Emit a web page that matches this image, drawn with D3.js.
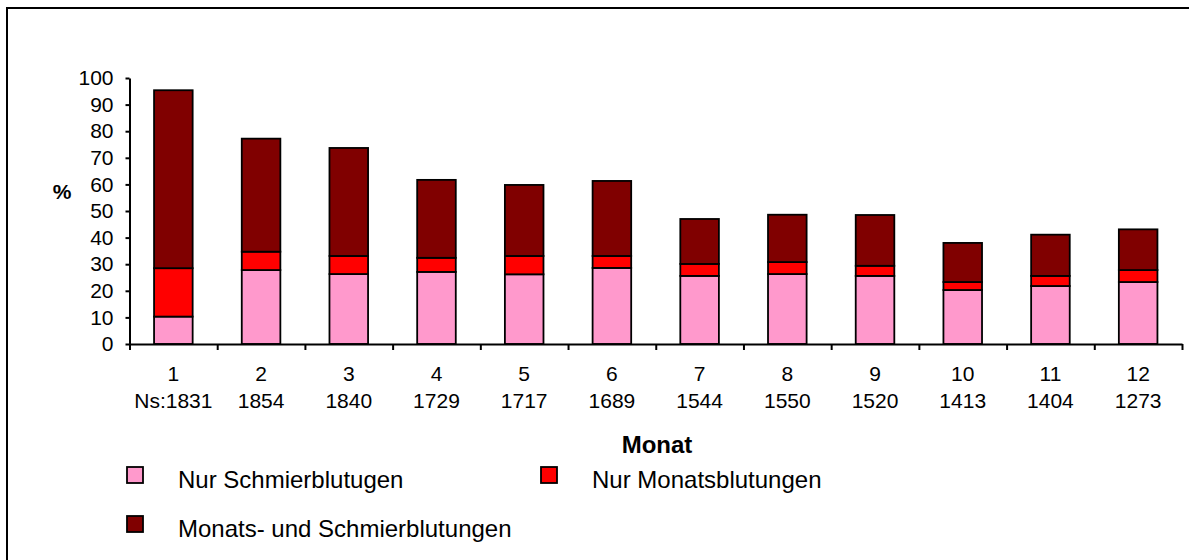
<!DOCTYPE html>
<html>
<head>
<meta charset="utf-8">
<script src="https://cdn.jsdelivr.net/npm/d3@7"></script>
<style>
  body { margin: 0; background: #fff; }
  svg { display: block; font-family: "Liberation Sans", Arial, sans-serif; }
</style>
</head>
<body>
<svg id="chart" width="1189" height="560"></svg>
<script>
// values (percent)
var months = ['1','2','3','4','5','6','7','8','9','10','11','12'];
var nLabels = ['Ns:1831','1854','1840','1729','1717','1689','1544','1550','1520','1413','1404','1273'];
var nurSchmier = [10.3, 27.8, 26.3, 27.1, 26.2, 28.6, 25.6, 26.3, 25.6, 20.3, 21.8, 23.3];
var nurMonats  = [18.2, 6.9, 6.8, 5.3, 6.9, 4.5, 4.5, 4.5, 3.8, 3.0, 3.8, 4.5];
var beide      = [66.9, 42.5, 40.6, 29.3, 26.7, 28.2, 16.9, 17.8, 19.1, 14.7, 15.5, 15.3];
var yTicks = [0,10,20,30,40,50,60,70,80,90,100];
var seriesNames = ['Nur Schmierblutugen','Nur Monatsblutungen','Monats- und Schmierblutungen'];
var colors = ['#FF99CC','#FF0000','#800000'];

var svg = d3.select('#chart');

// outer frame
svg.append('rect')
  .attr('x', 7).attr('y', 8)
  .attr('width', 1300).attr('height', 700)
  .attr('fill', 'none').attr('stroke', '#000').attr('stroke-width', 2);

var plotLeft = 129.5, plotRight = 1182, plotTop = 78, plotBottom = 344;

var x = d3.scaleBand()
  .domain(months)
  .range([plotLeft, plotRight])
  .paddingInner(0.56)
  .paddingOuter(0.28);

var xb = d3.scaleLinear().domain([0, months.length]).range([plotLeft, plotRight]);

var y = d3.scaleLinear().domain([0, 100]).range([plotBottom, plotTop]);

var rows = months.map(function(m, i){
  return { month: m, s: nurSchmier[i], m1: nurMonats[i], b: beide[i] };
});
var stack = d3.stack().keys(['s','m1','b']);
var layers = stack(rows);

svg.append('g')
  .selectAll('g')
  .data(layers)
  .enter()
  .append('g')
  .attr('fill', function(d, i){ return colors[i]; })
  .selectAll('rect')
  .data(function(d){ return d; })
  .enter()
  .append('rect')
  .attr('x', function(d){ return x(d.data.month); })
  .attr('width', x.bandwidth())
  .attr('y', function(d){ return y(d[1]); })
  .attr('height', function(d){ return y(d[0]) - y(d[1]); })
  .attr('stroke', '#000')
  .attr('stroke-width', 1.8);

// y axis
var yAxis = svg.append('g')
  .attr('transform', 'translate(' + plotLeft + ',0)')
  .call(d3.axisLeft(y).tickValues(yTicks).tickSize(4).tickSizeOuter(0).tickPadding(12));
yAxis.select('.domain').attr('stroke', '#000').attr('stroke-width', 2);
yAxis.selectAll('line').attr('stroke', '#000').attr('stroke-width', 2);
yAxis.selectAll('text')
  .attr('font-size', 21).attr('fill', '#000')
  .attr('font-family', '"Liberation Sans", Arial, sans-serif');

// x axis with ticks between the months
var xAxis = svg.append('g')
  .attr('transform', 'translate(0,' + plotBottom + ')')
  .call(d3.axisBottom(xb).ticks(months.length).tickSize(6).tickSizeOuter(0).tickFormat(''));
xAxis.select('.domain').attr('stroke', '#000').attr('stroke-width', 2);
xAxis.selectAll('line').attr('stroke', '#000').attr('stroke-width', 2);

svg.append('g')
  .selectAll('text')
  .data(months)
  .enter()
  .append('text')
  .attr('x', function(d){ return x(d) + x.bandwidth() / 2; })
  .attr('y', 381)
  .attr('text-anchor', 'middle')
  .attr('font-size', 21)
  .text(function(d){ return d; });

svg.append('g')
  .selectAll('text')
  .data(nLabels)
  .enter()
  .append('text')
  .attr('x', function(d, i){ return x(months[i]) + x.bandwidth() / 2; })
  .attr('y', 408)
  .attr('text-anchor', 'middle')
  .attr('font-size', 21)
  .text(function(d){ return d; });

// axis titles
svg.append('text')
  .attr('x', 62).attr('y', 199)
  .attr('text-anchor', 'middle')
  .attr('font-size', 21).attr('font-weight', 'bold')
  .text('%');

svg.append('text')
  .attr('x', 657).attr('y', 453)
  .attr('text-anchor', 'middle')
  .attr('font-size', 24).attr('font-weight', 'bold')
  .text('Monat');

// legend
var legendPos = [[127, 467], [541, 467], [127, 516]];
var legend = svg.append('g')
  .selectAll('g')
  .data(seriesNames)
  .enter()
  .append('g')
  .attr('transform', function(d, i){ return 'translate(' + legendPos[i][0] + ',' + legendPos[i][1] + ')'; });

legend.append('rect')
  .attr('width', 16).attr('height', 16)
  .attr('fill', function(d, i){ return colors[i]; })
  .attr('stroke', '#000').attr('stroke-width', 1.8);

legend.append('text')
  .attr('x', 51).attr('y', 21)
  .attr('font-size', 24)
  .text(function(d){ return d; });
</script>
</body>
</html>
